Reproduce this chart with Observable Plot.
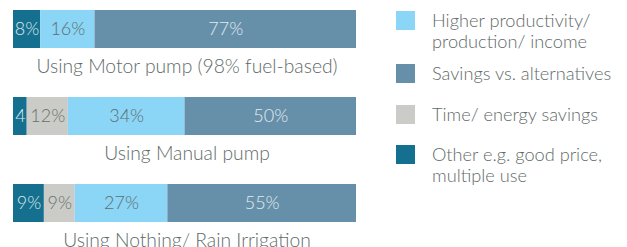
<!DOCTYPE html>
<html>
<head>
<meta charset="utf-8">
<script src="https://cdn.jsdelivr.net/npm/d3@7"></script>
<script src="https://cdn.jsdelivr.net/npm/@observablehq/plot@0.6"></script>
<style>
  html, body { margin: 0; padding: 0; background: #fff; }
  #wrap { position: relative; width: 627px; height: 247px; overflow: hidden; }
  #chart { position: absolute; left: 0; top: 0; }
  .item { position: absolute; left: 396px; display: flex; align-items: flex-start; }
  .sw { width: 19px; height: 19px; flex: none; }
  .lab { margin-left: 17px; font-family: Lato, sans-serif; font-weight: 300; font-size: 18.2px; line-height: 21px; color: #5f6b69; margin-top: -1px; white-space: nowrap; }
</style>
</head>
<body>
<div id="wrap"><div id="chart"></div><div id="legend"></div></div>
<script>
const categories = ["Using Motor pump (98% fuel-based)", "Using Manual pump", "Using Nothing/ Rain Irrigation"];
const keys = ["Other", "Time", "Higher", "Savings"];
const keyLabels = ["Other e.g. good price,<br>multiple use", "Time/ energy savings", "Higher productivity/<br>production/ income", "Savings vs. alternatives"];
const colors = ["#14708e", "#cbccc7", "#8bd5f6", "#6690aa"];
const textColors = ["#dce8ec", "#67716e", "#5f6e6c", "#e2ebef"];
const motorValues = [8, 0, 16, 77];
const manualValues = [4, 12, 34, 50];
const nothingValues = [9, 9, 27, 55];
const motorLabels = ["8%", "", "16%", "77%"];
const manualLabels = ["4", "12%", "34%", "50%"];
const nothingLabels = ["9%", "9%", "27%", "55%"];
const legendOrder = [2, 3, 1, 0];
const legendTops = [11, 64, 105, 145];

const series = [motorValues, manualValues, nothingValues];
const seriesLabels = [motorLabels, manualLabels, nothingLabels];
const rows = [];
series.forEach((vals, i) => vals.forEach((v, k) => {
  if (v > 0) rows.push({cat: categories[i], key: keys[k], value: v, label: seriesLabels[i][k], tc: textColors[k]});
}));

const chart = Plot.plot({
  width: 372,
  height: 247,
  marginLeft: 13,
  marginRight: 16,
  marginTop: 0,
  marginBottom: 0,
  x: {domain: [0, 1], axis: null},
  y: {type: "band", domain: categories, range: [10, 271], padding: 0, axis: null},
  color: {domain: keys, range: colors},
  style: {fontFamily: "Lato, sans-serif", fontWeight: 300},
  marks: [
    Plot.barX(rows, Plot.stackX({offset: "normalize", order: null, x: "value", y: "cat", z: "key", fill: "key", insetBottom: 49, insetTop: 0})),
    Plot.text(rows, Plot.stackX({offset: "normalize", order: null, x: "value", y: "cat", z: "key", text: "label", fill: "tc", dy: -24.5, fontSize: 18})),
    Plot.text(categories, {y: d => d, text: d => d, dy: 12.5, dx: 2, fontSize: 19.3, fill: "#606b69"})
  ]
});
chart.querySelectorAll("text").forEach(t => t.style.fontWeight = 300);
document.getElementById("chart").appendChild(chart);

const legend = document.getElementById("legend");
legendOrder.forEach((k, i) => {
  const d = document.createElement("div");
  d.className = "item";
  d.style.top = legendTops[i] + "px";
  d.innerHTML = `<div class="sw" style="background:${colors[k]}"></div><div class="lab">${keyLabels[k]}</div>`;
  legend.appendChild(d);
});
</script>
</body>
</html>
